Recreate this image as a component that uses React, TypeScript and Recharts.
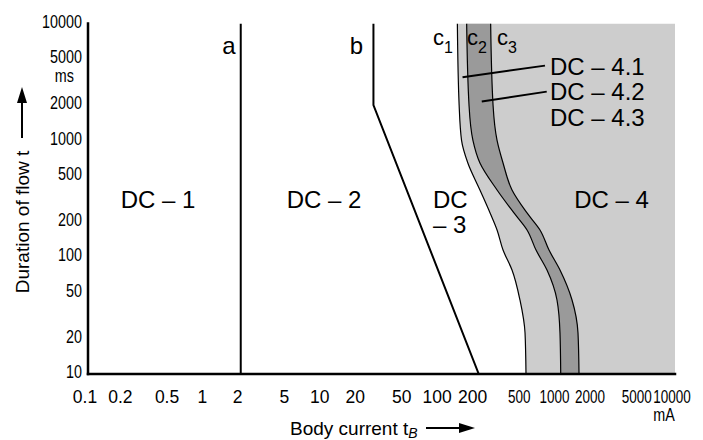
import React from 'react';
import { ComposedChart, XAxis, YAxis, Line, Area, ReferenceLine } from 'recharts';

// ---- data ----
const currentTicks = [0.1, 0.2, 0.5, 1, 2, 5, 10, 20, 50, 100, 200, 500, 1000, 2000, 5000, 10000];
const durationTicks = [10, 20, 50, 100, 200, 500, 1000, 2000, 5000, 10000];

// durations (ms) at which the c-curves were read, and the body current (mA) of each curve
const curveDurations = [10, 22.4, 43, 77.6, 115, 171, 239, 376, 640, 1000, 2000, 10000];
const c1Currents = [538, 528, 478, 409, 343, 305, 266, 218, 172, 152, 145, 140];
const c2Currents = [1063, 1048, 988, 812, 655, 549, 425, 305, 218, 190, 176, 168];
const c3Currents = [1522, 1492, 1327, 1048, 845, 708, 549, 409, 343, 305, 282, 269];

const aDurations = [10, 10000];
const aCurrents = [2, 2];
const bDurations = [10, 2000, 10000];
const bCurrents = [213, 27, 27];

const leader41 = [[155, 3470], [781, 4360]];
const leader42 = [[226, 2145], [808, 2612]];

const X_MIN = 0.1;
const X_MAX = 10000;
const Y_MIN = 10;
const Y_MAX = 10000;

// ---- derived tables ----
const curveData = curveDurations.map((t, i) => ({
  t,
  c1: c1Currents[i],
  c2: c2Currents[i],
  c3: c3Currents[i],
  edge: X_MAX,
}));
const aData = aDurations.map((t, i) => ({ t, i: aCurrents[i] }));
const bData = bDurations.map((t, i) => ({ t, i: bCurrents[i] }));

const SANS = '"Liberation Sans", Arial, Helvetica, sans-serif';

const frameLine = { stroke: '#000', strokeWidth: 2.5, strokeLinecap: 'square' as const };

const formatCurrent = (v: number) => (v < 1 ? v.toFixed(1) : String(v));

const NarrowText = ({ x, y, anchor, size, children, dy, scale = 0.82 }: any) => (
  <text
    transform={`translate(${x},${y}) scale(${scale},1)`}
    x={0}
    y={0}
    dy={dy}
    textAnchor={anchor}
    fontSize={size}
    fontFamily={SANS}
    fill="#000"
  >
    {children}
  </text>
);

const XTick = (props: any) => {
  const { x, y, payload } = props;
  const v = payload.value as number;
  if (v >= 500) {
    return (
      <NarrowText x={x - 3} y={y} dy="0.71em" anchor="middle" size={17.5} scale={0.77}>
        {formatCurrent(v)}
      </NarrowText>
    );
  }
  return (
    <text x={x - 3} y={y} dy="0.71em" textAnchor="middle" fontSize={17.5} fontFamily={SANS} fill="#000">
      {formatCurrent(v)}
    </text>
  );
};

const YTick = (props: any) => {
  const { x, y, payload } = props;
  return (
    <NarrowText x={x} y={y - 2} dy="0.355em" anchor="end" size={17.5}>
      {String(payload.value)}
    </NarrowText>
  );
};

export default function App() {
  return (
    <div style={{ position: 'relative', width: 695, height: 432, fontFamily: SANS }}>
      <ComposedChart width={695} height={432} layout="vertical" margin={{ top: 15.5, right: 28, bottom: 36, left: 0 }}>
        <XAxis
          xAxisId={0}
          type="number"
          scale="log"
          domain={[X_MIN, X_MAX]}
          allowDataOverflow
          ticks={currentTicks}
          interval={0}
          tickLine={false}
          tickSize={0}
          tickMargin={17}
          axisLine={frameLine}
          tick={<XTick />}
          height={30}
        />
        <XAxis
          xAxisId="top"
          orientation="top"
          type="number"
          scale="log"
          domain={[X_MIN, X_MAX]}
          allowDataOverflow
          tick={false}
          tickLine={false}
          axisLine={frameLine}
          height={0}
        />
        <YAxis
          yAxisId={0}
          type="number"
          dataKey="t"
          scale="log"
          domain={[Y_MIN, Y_MAX]}
          allowDataOverflow
          reversed
          ticks={durationTicks}
          interval={0}
          tickLine={false}
          tickSize={0}
          tickMargin={6}
          axisLine={frameLine}
          tick={<YTick />}
          width={80}
        />
        <YAxis
          yAxisId="right"
          orientation="right"
          type="number"
          scale="log"
          domain={[Y_MIN, Y_MAX]}
          allowDataOverflow
          reversed
          tick={false}
          tickLine={false}
          axisLine={frameLine}
          width={0}
        />
        <Area
          data={curveData}
          dataKey={(d: any) => [d.c1, d.edge]}
          type="monotoneY"
          fill="#cdcdcd"
          fillOpacity={1}
          stroke="none"
          isAnimationActive={false}
        />
        <Area
          data={curveData}
          dataKey={(d: any) => [d.c2, d.c3]}
          type="monotoneY"
          fill="#9a9a9a"
          fillOpacity={1}
          stroke="none"
          isAnimationActive={false}
        />
        <Line data={curveData} dataKey="c1" type="monotoneY" stroke="#000" strokeWidth={1.2} dot={false} isAnimationActive={false} />
        <Line data={curveData} dataKey="c2" type="monotoneY" stroke="#000" strokeWidth={1.2} dot={false} isAnimationActive={false} />
        <Line data={curveData} dataKey="c3" type="monotoneY" stroke="#000" strokeWidth={1.2} dot={false} isAnimationActive={false} />
        <Line data={aData} dataKey="i" type="linear" stroke="#000" strokeWidth={2} dot={false} isAnimationActive={false} />
        <Line data={bData} dataKey="i" type="linear" stroke="#000" strokeWidth={2} dot={false} isAnimationActive={false} />
        <ReferenceLine
          segment={[{ x: leader41[0][0], y: leader41[0][1] }, { x: leader41[1][0], y: leader41[1][1] }]}
          stroke="#000"
          strokeWidth={2}
          ifOverflow="visible"
        />
        <ReferenceLine
          segment={[{ x: leader42[0][0], y: leader42[0][1] }, { x: leader42[1][0], y: leader42[1][1] }]}
          stroke="#000"
          strokeWidth={2}
          ifOverflow="visible"
        />
      </ComposedChart>
      <svg width={695} height={432} style={{ position: 'absolute', left: 0, top: 0, pointerEvents: 'none', overflow: 'visible' }}>
        <g fontFamily={SANS} fill="#000">
          <text x={221} y={46} fontSize={24} textAnchor="middle">a</text>
          <text x={348.5} y={46} fontSize={24} textAnchor="middle">b</text>
          <text x={425} y={37} fontSize={22}>c<tspan fontSize={16} dy={8}>1</tspan></text>
          <text x={459} y={37} fontSize={22}>c<tspan fontSize={16} dy={8}>2</tspan></text>
          <text x={489} y={37} fontSize={22}>c<tspan fontSize={16} dy={8}>3</tspan></text>
          <text x={542} y={67} fontSize={24}>DC – 4.1</text>
          <text x={542} y={92} fontSize={24}>DC – 4.2</text>
          <text x={542} y={118} fontSize={24}>DC – 4.3</text>
          <text x={150} y={200} fontSize={24} textAnchor="middle">DC – 1</text>
          <text x={316} y={200} fontSize={24} textAnchor="middle">DC – 2</text>
          <text x={425} y={200} fontSize={24}>DC</text>
          <text x={425} y={225} fontSize={24}>– 3</text>
          <text x={603.5} y={200} fontSize={24} textAnchor="middle">DC – 4</text>
          <NarrowText x={66} y={74} anchor="end" size={17.5}>ms</NarrowText>
          <NarrowText x={656} y={413} anchor="middle" size={17.5}>mA</NarrowText>
          <text x={282} y={427} fontSize={19}>Body current t<tspan fontSize={14} fontStyle="italic" dy={3}>B</tspan></text>
          <line x1={418} y1={420} x2={454} y2={420} stroke="#000" strokeWidth={2} />
          <polygon points="467,420 451,415 451,425" />
          <text x={20.5} y={214} fontSize={19} textAnchor="middle" transform="rotate(-90 20.5 214)">Duration of flow t</text>
          <line x1={14} y1={130} x2={14} y2={92} stroke="#000" strokeWidth={2} />
          <polygon points="14,79 9,95 19,95" />
        </g>
      </svg>
    </div>
  );
}
